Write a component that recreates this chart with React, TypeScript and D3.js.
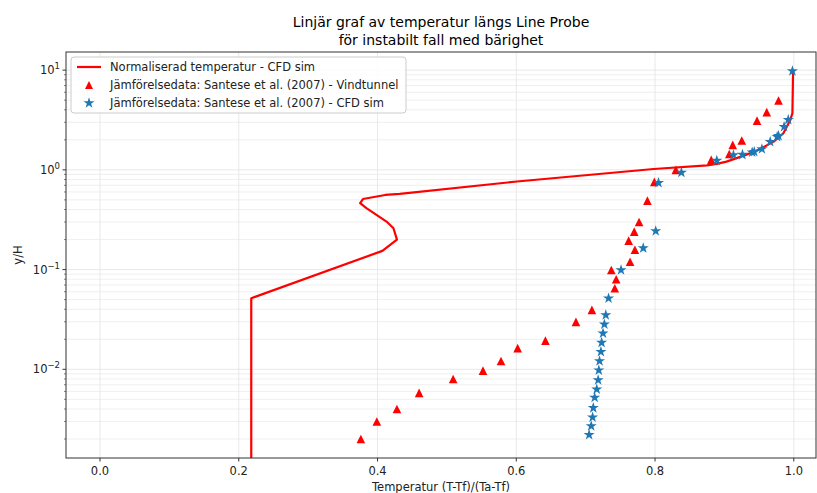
import React from 'react';
import * as d3 from 'd3';

// Normaliserad temperatur - CFD sim (x, y/H)
const lineX = [0.218, 0.218, 0.407, 0.428, 0.423, 0.413, 0.384, 0.375, 0.379, 0.411, 0.432, 0.601, 0.798, 0.875, 0.889, 0.903, 0.927, 0.951, 0.971, 0.985, 0.995, 0.998, 0.999];
const lineY = [0.0005, 0.0516, 0.154, 0.2, 0.26, 0.303, 0.413, 0.463, 0.51, 0.56, 0.574, 0.764, 1.02, 1.11, 1.15, 1.21, 1.38, 1.61, 1.92, 2.33, 3.17, 3.7, 10];

// Vindtunnel
const tunnelX = [0.376, 0.399, 0.428, 0.46, 0.509, 0.552, 0.578, 0.602, 0.642, 0.686, 0.709, 0.742, 0.744, 0.737, 0.764, 0.771, 0.762, 0.77, 0.777, 0.789, 0.799, 0.83, 0.881, 0.907, 0.912, 0.925, 0.947, 0.961, 0.978];
const tunnelY = [0.002, 0.003, 0.004, 0.0058, 0.008, 0.0097, 0.0121, 0.0163, 0.0194, 0.0299, 0.0394, 0.065, 0.08, 0.099, 0.12, 0.158, 0.195, 0.24, 0.3, 0.492, 0.758, 1.0, 1.26, 1.44, 1.78, 1.97, 3.12, 3.79, 4.96];

// CFD sim (Santese)
const simX = [0.705, 0.708, 0.71, 0.711, 0.713, 0.716, 0.718, 0.719, 0.72, 0.722, 0.723, 0.725, 0.727, 0.729, 0.733, 0.751, 0.783, 0.801, 0.805, 0.838, 0.889, 0.913, 0.926, 0.94, 0.943, 0.954, 0.966, 0.976, 0.978, 0.986, 0.992, 0.998];
const simY = [0.0022, 0.0027, 0.0033, 0.0041, 0.0052, 0.0063, 0.0078, 0.0098, 0.0121, 0.015, 0.0185, 0.023, 0.0283, 0.035, 0.0516, 0.099, 0.164, 0.244, 0.74, 0.94, 1.24, 1.41, 1.42, 1.5, 1.52, 1.62, 1.91, 2.15, 2.2, 2.7, 3.18, 9.8];

const xTicks = [0, 0.2, 0.4, 0.6, 0.8, 1.0];
const yExps = [-2, -1, 0, 1];

const legendLabels = [
  'Normaliserad temperatur - CFD sim',
  'Jämförelsedata: Santese et al. (2007) - Vindtunnel',
  'Jämförelsedata: Santese et al. (2007) - CFD sim',
];

const W = 817;
const H = 493;
const m = { left: 66, right: 816, top: 52, bottom: 458 };
const FONT = 'DejaVu Sans, sans-serif';
const RED = '#ff0000';
const BLUE = '#1f77b4';

export default function App() {
  const x = d3.scaleLinear().domain([-0.049, 1.032]).range([m.left, m.right]);
  const y = d3.scaleLog().domain([0.00129, 15.2]).range([m.bottom, m.top]);

  const pts = lineX.map((v, i) => [v, lineY[i]] as [number, number]);
  const linePath = d3.line<[number, number]>().x(d => x(d[0])).y(d => y(d[1]))(pts) || '';

  const tri = (r: number) => `M0,${-r}L${-r},${r}L${r},${r}Z`;
  const star = d3.symbol().type(d3.symbolStar).size(38)() || '';

  const minor: number[] = [];
  for (let e = -3; e <= 1; e++) {
    for (let k = 2; k <= 9; k++) {
      const v = k * Math.pow(10, e);
      const [lo, hi] = y.domain();
      if (v > lo && v < hi) minor.push(v);
    }
  }
  const major = yExps.map(e => Math.pow(10, e));

  return (
    <svg width={W} height={H} style={{ position: 'absolute', left: 0, top: 0, background: '#fff' }} fontFamily={FONT}>
      <defs>
        <clipPath id="plotclip">
          <rect x={m.left} y={m.top} width={m.right - m.left} height={m.bottom - m.top} />
        </clipPath>
      </defs>
      <rect x={0} y={0} width={W} height={H} fill="#fff" />
      <text x={441} y={27} textAnchor="middle" fontSize={14} fill="#000">Linjär graf av temperatur längs Line Probe</text>
      <text x={441} y={45} textAnchor="middle" fontSize={14} fill="#000">för instabilt fall med bärighet</text>

      {/* grid */}
      <g>
        {minor.map((v, i) => (
          <line key={'mn' + i} x1={m.left} x2={m.right} y1={y(v)} y2={y(v)} stroke="#ebebeb" strokeWidth={0.8} />
        ))}
        {major.map((v, i) => (
          <line key={'mj' + i} x1={m.left} x2={m.right} y1={y(v)} y2={y(v)} stroke="#e3e3e3" strokeWidth={0.8} />
        ))}
        {xTicks.map((v, i) => (
          <line key={'gx' + i} x1={x(v)} x2={x(v)} y1={m.top} y2={m.bottom} stroke="#e3e3e3" strokeWidth={0.8} />
        ))}
      </g>

      <g clipPath="url(#plotclip)">
        <path d={linePath} fill="none" stroke={RED} strokeWidth={2.2} strokeLinejoin="round" />
        {tunnelX.map((v, i) => (
          <path key={'t' + i} d={tri(4.3)} transform={`translate(${x(v)},${y(tunnelY[i])})`} fill={RED} />
        ))}
        {simX.map((v, i) => (
          <path key={'s' + i} d={star} transform={`translate(${x(v)},${y(simY[i])})`} fill={BLUE} />
        ))}
      </g>

      {/* axes frame */}
      <rect x={m.left} y={m.top} width={m.right - m.left} height={m.bottom - m.top} fill="none" stroke="#333" strokeWidth={1} />

      {/* x ticks */}
      {xTicks.map((v, i) => (
        <g key={'xt' + i} transform={`translate(${x(v)},${m.bottom})`}>
          <line y1={0} y2={3.5} stroke="#333" />
          <text y={17} textAnchor="middle" fontSize={11.5} fill="#222">{d3.format('.1f')(v)}</text>
        </g>
      ))}
      <text x={441} y={491} textAnchor="middle" fontSize={11.5} fill="#222">Temperatur (T-Tf)/(Ta-Tf)</text>

      {/* y ticks */}
      {minor.map((v, i) => (
        <line key={'ymt' + i} x1={m.left - 2} x2={m.left} y1={y(v)} y2={y(v)} stroke="#333" strokeWidth={0.6} />
      ))}
      {yExps.map((e, i) => (
        <g key={'yt' + i} transform={`translate(${m.left},${y(Math.pow(10, e))})`}>
          <line x1={-3.5} x2={0} stroke="#333" />
          <text x={-6} y={4} textAnchor="end" fontSize={11.5} fill="#222">
            10<tspan dy={-5} fontSize={8.5}>{e < 0 ? '\u2212' + Math.abs(e) : String(e)}</tspan>
          </text>
        </g>
      ))}
      <text transform={`translate(22,${(m.top + m.bottom) / 2}) rotate(-90)`} textAnchor="middle" fontSize={11.5} fill="#222">y/H</text>

      {/* legend */}
      <g transform="translate(71,57)">
        <rect x={0} y={0} width={335} height={56} rx={3} fill="#fff" fillOpacity={0.85} stroke="#cccccc" />
        <line x1={6} x2={30} y1={10} y2={10} stroke={RED} strokeWidth={2.2} />
        <path d={tri(4)} transform="translate(18,28)" fill={RED} />
        <path d={star} transform="translate(18,46)" fill={BLUE} />
        {legendLabels.map((t, i) => (
          <text key={'lg' + i} x={39} y={14 + i * 18} fontSize={11.5} fill="#222">{t}</text>
        ))}
      </g>
    </svg>
  );
}
